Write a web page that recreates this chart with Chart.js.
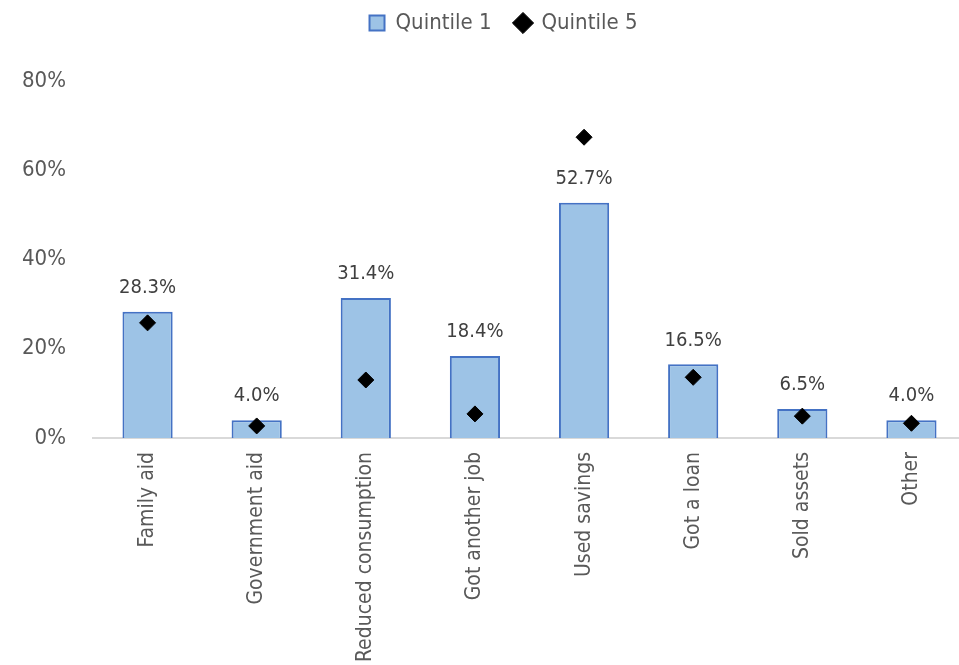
<!DOCTYPE html>
<html>
<head>
<meta charset="utf-8">
<script src="https://cdn.jsdelivr.net/npm/chart.js@4"></script>
<style>
  html, body { margin: 0; padding: 0; background: #fff; overflow: hidden; }
  #wrap { width: 975px; height: 665px; }
</style>
</head>
<body>
<div id="wrap"><canvas id="chart" width="975" height="665"></canvas></div>
<script>
// data
const categories = ['Family aid', 'Government aid', 'Reduced consumption', 'Got another job',
  'Used savings', 'Got a loan', 'Sold assets', 'Other'];
const quintile1 = [28.3, 4.0, 31.4, 18.4, 52.7, 16.5, 6.5, 4.0];
const quintile5 = [25.8, 2.7, 13.0, 5.4, 67.4, 13.6, 4.9, 3.3];
const yTicks = [0, 20, 40, 60, 80];

const FONT = "'Liberation Sans Narrow', 'DejaVu Sans Condensed', 'Roboto Condensed', sans-serif";

// value labels above the bars (dataset 1 = Quintile 1 bars)
const barLabels = {
  id: 'barLabels',
  afterDatasetsDraw(chart) {
    const ctx = chart.ctx;
    const meta = chart.getDatasetMeta(1);
    ctx.save();
    ctx.font = '20px ' + FONT;
    ctx.fillStyle = '#404040';
    ctx.textAlign = 'center';
    ctx.textBaseline = 'bottom';
    meta.data.forEach((bar, i) => {
      ctx.fillText(quintile1[i].toFixed(1) + '%', bar.x, bar.y - 14);
    });
    ctx.restore();
  }
};

// extra room under the legend, and nudge it right to sit over the visible page
const legendGap = {
  id: 'legendGap',
  beforeInit(chart) {
    const legend = chart.legend;
    const fit = legend.fit;
    legend.fit = function () {
      fit.call(this);
      this.height += 37;
    };
    const draw = legend.draw;
    legend.draw = function () {
      this.ctx.save();
      this.ctx.translate(16, 0);
      draw.apply(this, arguments);
      this.ctx.restore();
    };
  }
};

new Chart(document.getElementById('chart'), {
  type: 'bar',
  data: {
    labels: categories,
    datasets: [
      {
        type: 'line',
        label: 'Quintile 5',
        data: quintile5,
        showLine: false,
        pointStyle: 'rectRot',
        pointRadius: 8,
        pointBackgroundColor: '#000',
        pointBorderColor: '#000',
        backgroundColor: '#000',
        borderColor: '#000',
        order: 0
      },
      {
        label: 'Quintile 1',
        data: quintile1,
        backgroundColor: '#9dc3e6',
        borderColor: '#4472c4',
        borderWidth: 2,
        borderSkipped: 'bottom',
        pointStyle: 'rect',
        barPercentage: 0.46,
        categoryPercentage: 1,
        order: 1
      }
    ]
  },
  options: {
    responsive: false,
    animation: false,
    layout: { padding: { top: -12, left: 0, right: 0, bottom: 0 } },
    plugins: {
      tooltip: { enabled: false },
      legend: {
        position: 'top',
        reverse: true,
        labels: {
          usePointStyle: true,
          boxWidth: 15,
          boxHeight: 15,
          color: '#595959',
          font: { family: FONT, size: 22 },
          padding: 24
        }
      }
    },
    scales: {
      x: {
        grid: { display: false, drawTicks: false },
        border: { display: true, color: '#d9d9d9', width: 2 },
        ticks: {
          color: '#595959',
          font: { family: FONT, size: 21 },
          minRotation: 90,
          maxRotation: 90,
          autoSkip: false,
          padding: 14
        },
        afterFit(scale) { scale.height = 227; }
      },
      y: {
        min: 0,
        max: 80,
        afterBuildTicks(scale) { scale.ticks = yTicks.map(v => ({ value: v })); },
        grid: { display: false, drawTicks: false },
        border: { display: false },
        ticks: {
          color: '#595959',
          font: { family: FONT, size: 22 },
          padding: 27,
          callback: v => v + '%'
        },
        afterFit(scale) { scale.width = 93; }
      }
    }
  },
  plugins: [barLabels, legendGap]
});
</script>
</body>
</html>
